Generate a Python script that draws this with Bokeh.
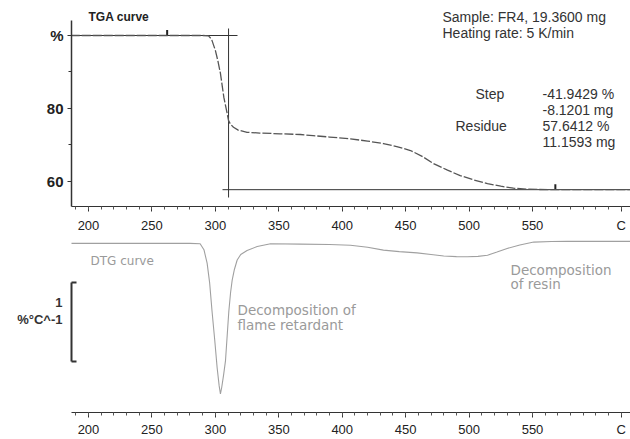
from bokeh.plotting import figure
from bokeh.models import Range1d, FixedTicker, LinearAxis, Label
from bokeh.layouts import column
from bokeh.embed import file_html
from bokeh.resources import INLINE

# ---------------- data ----------------
tga_T = [186, 200, 250, 280, 290, 294.6, 297, 300, 302, 304, 306.7, 309.3, 310.4, 312,
         314.3, 318, 325, 335, 351, 367, 377, 390, 406.5, 420, 432.5, 443, 453.8, 463,
         472, 483, 493, 504, 514.5, 525, 535, 545, 555, 570, 600, 627]
tga_mass = [100, 100, 100, 100, 100, 99.9, 99.0, 95.9, 93.0, 89.6, 83.0, 78.6, 76.6, 75.6,
            74.8, 74.0, 73.4, 73.2, 73.0, 72.8, 72.5, 72.1, 71.6, 71.0, 70.3, 69.5, 68.4, 66.8,
            64.8, 63.0, 61.5, 60.3, 59.3, 58.6, 58.05, 57.8, 57.7, 57.65, 57.64, 57.64]

dtg_T = [186, 200, 250, 280, 288, 291, 293.5, 295.5, 297.4, 299.5, 301.4, 303, 304, 305,
         306.5, 308, 309.3, 310.6, 312, 313.3, 315, 317.2, 320, 325, 333, 343.5, 367,
         390, 406.5, 420, 432.5, 445, 459, 470, 480, 490, 498.7, 507, 514.5, 522, 530,
         540, 551, 565, 577, 627]
dtg_rate = [0, 0, 0, 0, -0.005, -0.08, -0.25, -0.5, -0.86, -1.22, -1.57, -1.8, -1.9, -1.82,
            -1.66, -1.48, -1.17, -0.86, -0.62, -0.46, -0.33, -0.21, -0.14, -0.09, -0.04,
            -0.005, -0.01, -0.015, -0.025, -0.05, -0.086, -0.105, -0.12, -0.14, -0.16,
            -0.168, -0.17, -0.165, -0.15, -0.11, -0.065, -0.02, 0.016, 0.024, 0.025, 0.025]

x_major = [200, 250, 300, 350, 400, 450, 500, 550, 620]
x_labels = {200: "200", 250: "250", 300: "300", 350: "350", 400: "400",
            450: "450", 500: "500", 550: "550", 620: "C"}
x_minor = list(range(190, 630, 10))
y_major = [60, 80, 100]
y_labels = {60: "60", 80: "80", 100: "%"}
y_minor = [70, 90]

step_T = 310.4          # step evaluation point
eval_T = [262, 568]     # evaluation limits
start_level = 100.0
residue = 57.6412
step_text = ["-41.9429 %", "-8.1201 mg"]
residue_text = ["57.6412 %", "11.1593 mg"]
scale_bar = 1.0         # %/°C
scale_text = ["1", "%°C^-1"]

FONT = "Liberation Sans"
FONT2 = "DejaVu Sans"

# ---------------- pixel helpers for text placement ----------------
def tx(px):
    return 200 + (px - 88) / 1.2686

def ty_top(py):
    return 100 - (py - 35) / 3.64

def ty_bot(py):
    return (243 - py) / 81.0


def style_x_axis(ax):
    ax.ticker = FixedTicker(ticks=x_major, minor_ticks=x_minor)
    ax.major_label_overrides = x_labels
    ax.major_tick_in = 0
    ax.major_tick_out = 5
    ax.minor_tick_in = 0
    ax.minor_tick_out = 3
    ax.axis_line_color = "#333333"
    ax.axis_line_width = 1.2
    ax.major_tick_line_color = "#333333"
    ax.minor_tick_line_color = "#555555"
    ax.major_label_text_font = FONT
    ax.major_label_text_font_size = "13px"
    ax.major_label_text_color = "#222222"
    ax.major_label_standoff = 6


def add_label(p, x, y, text, size="11px", color="#333333", style="normal", align="left", font=FONT):
    p.add_layout(Label(x=x, y=y, text=text, text_font=font, text_font_size=size,
                       text_color=color, text_font_style=style, text_baseline="middle",
                       text_align=align))


xr = Range1d(tx(71), tx(630))

# ---------------- top: TGA ----------------
top = figure(width=630, height=236, output_backend="svg", toolbar_location=None,
             x_range=xr, y_range=Range1d(ty_top(206), ty_top(0)),
             min_border_left=71, min_border_right=0, min_border_top=0,
             min_border_bottom=30, x_axis_location="below", y_axis_location=None)
top.outline_line_color = None
top.grid.visible = False
top.background_fill_color = "white"
top.border_fill_color = "white"

yax = LinearAxis(ticker=FixedTicker(ticks=y_major, minor_ticks=y_minor),
                 major_label_overrides=y_labels, bounds=(ty_top(206), ty_top(20)))
yax.major_tick_in = 0
yax.major_tick_out = 4
yax.minor_tick_in = 0
yax.minor_tick_out = 3
yax.axis_line_color = "#333333"
yax.axis_line_width = 1.5
yax.major_tick_line_color = "#333333"
yax.minor_tick_line_color = "#333333"
yax.major_label_text_font = FONT
yax.major_label_text_font_size = "15px"
yax.major_label_text_font_style = "bold"
yax.major_label_text_color = "#222222"
yax.major_label_standoff = 4
top.add_layout(yax, "left")
style_x_axis(top.xaxis[0])

# construction lines
top.line([tx(71), tx(237)], [start_level, start_level], line_color="#333333", line_width=1)
top.line([step_T, step_T], [ty_top(28), ty_top(197)], line_color="#333333", line_width=1)
top.line([tx(222), tx(630)], [residue, residue], line_color="#333333", line_width=1)
top.segment(x0=eval_T, x1=eval_T, y0=[start_level, residue], y1=[start_level + 1.5, residue + 1.5],
            line_color="#222222", line_width=2)

top.line(tga_T, tga_mass, line_color="#555555", line_width=1.3, line_dash="9 2")

add_label(top, tx(88), ty_top(16), "TGA curve", size="12px", style="bold", color="#222222")
add_label(top, tx(442), ty_top(16), "Sample: FR4, 19.3600 mg", size="14px")
add_label(top, tx(442), ty_top(32), "Heating rate: 5 K/min", size="14px")
add_label(top, tx(475), ty_top(93), "Step", size="14px")
add_label(top, tx(542), ty_top(93), step_text[0], size="14px")
add_label(top, tx(542), ty_top(109), step_text[1], size="14px")
add_label(top, tx(455), ty_top(125), "Residue", size="14px")
add_label(top, tx(542), ty_top(125), residue_text[0], size="14px")
add_label(top, tx(542), ty_top(141), residue_text[1], size="14px")

# ---------------- bottom: DTG ----------------
bot = figure(width=630, height=203, output_backend="svg", toolbar_location=None,
             x_range=xr, y_range=Range1d(ty_bot(416), ty_bot(236)),
             min_border_left=71, min_border_right=0, min_border_top=0,
             min_border_bottom=23, x_axis_location="below", y_axis_location=None)
bot.outline_line_color = None
bot.grid.visible = False
bot.background_fill_color = "white"
bot.border_fill_color = "white"
style_x_axis(bot.xaxis[0])
bot.xaxis[0].major_label_standoff = 4

# scale bar bracket (1 %/°C), drawn as an axis with bounds
bar_lo = ty_bot(364)
bar = LinearAxis(ticker=FixedTicker(ticks=[bar_lo, bar_lo + scale_bar]),
                 bounds=(bar_lo, bar_lo + scale_bar))
bar.major_tick_in = 5
bar.major_tick_out = 0
bar.minor_tick_line_color = None
bar.axis_line_width = 2
bar.axis_line_color = "#333333"
bar.major_tick_line_color = "#333333"
bar.major_tick_line_width = 2
bar.major_label_text_alpha = 0
bar.major_label_text_font_size = "1px"
bar.major_label_standoff = 0
bot.add_layout(bar, "left")

# scale bar caption, as tick labels of an invisible axis
lab_y = [ty_bot(304), ty_bot(321)]
cap = LinearAxis(ticker=FixedTicker(ticks=lab_y),
                 major_label_overrides={lab_y[0]: scale_text[0], lab_y[1]: scale_text[1]})
cap.axis_line_color = None
cap.major_tick_line_color = None
cap.minor_tick_line_color = None
cap.major_tick_in = 0
cap.major_tick_out = 0
cap.major_label_standoff = 9
cap.major_label_text_font = FONT
cap.major_label_text_font_size = "13px"
cap.major_label_text_font_style = "bold"
cap.major_label_text_color = "#333333"
bot.add_layout(cap, "left")

bot.line(dtg_T, dtg_rate, line_color="#a0a0a0", line_width=1.1)

add_label(bot, tx(90), ty_bot(261), "DTG curve", size="12px", color="#9a9a9a", font=FONT2)
add_label(bot, tx(237), ty_bot(311), "Decomposition of", size="13.5px", color="#9a9a9a", font=FONT2)
add_label(bot, tx(237), ty_bot(327), "flame retardant", size="13.5px", color="#9a9a9a", font=FONT2)
add_label(bot, tx(510), ty_bot(270), "Decomposition", size="13.5px", color="#9a9a9a", font=FONT2)
add_label(bot, tx(510), ty_bot(285), "of resin", size="13.5px", color="#9a9a9a", font=FONT2)

layout = column(top, bot, spacing=0)
open("out.html", "w").write(file_html(layout, INLINE))
